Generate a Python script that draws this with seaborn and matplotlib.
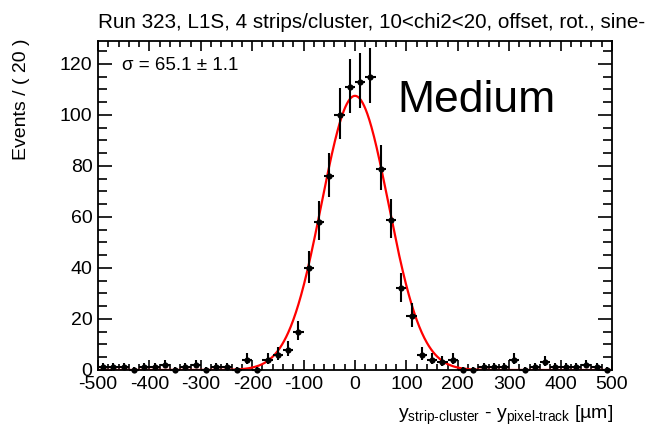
import numpy as np
import pandas as pd
import seaborn as sns
import matplotlib
matplotlib.use("Agg")
import matplotlib.pyplot as plt
from matplotlib.ticker import MultipleLocator

# histogram: 50 bins of width 20 between -500 and 500
bin_width = 20
bin_centers = np.arange(-490, 500, bin_width)
counts = [
    1, 1, 1, 0, 1, 1, 2, 0, 1, 2, 0, 1, 1, 0,            # -490 .. -230
    4, 0, 4, 6, 8, 15, 40, 58, 76, 100, 111,              # -210 .. -10
    113, 115, 79, 59, 32, 21, 6, 4, 3, 4,                 # 10 .. 190
    0, 0, 1, 1, 1, 4, 0, 1, 3, 1, 1, 1, 2, 1, 0,          # 210 .. 490
]

# gaussian fit result
fit_peak = 107.5
fit_mean = 0.0
fit_sigma = 65.1
fit_sigma_err = 1.1

title = "Run 323, L1S, 4 strips/cluster, 10<chi2<20, offset, rot., sine-"
x_ticks = [-500, -400, -300, -200, -100, 0, 100, 200, 300, 400, 500]
y_ticks = [0, 20, 40, 60, 80, 100, 120]

df = pd.DataFrame({"x": bin_centers, "n": counts})
# approximate poisson intervals
root = np.sqrt(df["n"] + 0.25)
df["err_lo"] = np.where(df["n"] > 0, root - 0.5, 0)
df["err_hi"] = root + 0.5

xs = np.linspace(-500, 500, 1001)
fit_df = pd.DataFrame({
    "x": xs,
    "y": fit_peak * np.exp(-0.5 * ((xs - fit_mean) / fit_sigma) ** 2),
})

sns.set_theme(style="ticks")
plt.rcParams["font.family"] = ["Liberation Sans", "DejaVu Sans"]
plt.rcParams["mathtext.fontset"] = "custom"
plt.rcParams["mathtext.rm"] = "Liberation Sans"
plt.rcParams["mathtext.it"] = "Liberation Sans"
plt.rcParams["axes.linewidth"] = 1.3
plt.rcParams["text.color"] = "black"

fig = plt.figure(figsize=(6.46, 4.34), dpi=100)
ax = fig.add_axes([98 / 646, 64 / 434, 514 / 646, 329.5 / 434])

sns.lineplot(data=fit_df, x="x", y="y", ax=ax, color="#ff0000", linewidth=1.6, zorder=2)
ax.errorbar(df["x"], df["n"], xerr=bin_width / 2, yerr=[df["err_lo"], df["err_hi"]],
            fmt="none", ecolor="black", elinewidth=1.5, capsize=0, zorder=3, clip_on=False)
sns.scatterplot(data=df, x="x", y="n", ax=ax, color="black", s=20, linewidth=0,
                zorder=4, clip_on=False)

ax.set_xlim(-500, 500)
ax.set_ylim(0, 129.2)
ax.set_xticks(x_ticks)
ax.set_xticklabels([str(t) for t in x_ticks])
ax.set_yticks(y_ticks)
ax.xaxis.set_minor_locator(MultipleLocator(20))
ax.yaxis.set_minor_locator(MultipleLocator(5))
ax.tick_params(which="both", direction="in", top=True, right=True, color="black",
               labelsize=14, labelcolor="black", width=1.2)
ax.tick_params(axis="x", which="major", length=7.5, pad=4)
ax.tick_params(axis="x", which="minor", length=4.5)
ax.tick_params(axis="y", which="major", length=10, pad=4)
ax.tick_params(axis="y", which="minor", length=6.5)
for s in ax.spines.values():
    s.set_color("black")
ax.set_xlabel("")
ax.set_ylabel("")

fig.text(97.5 / 646, 1 - 22 / 434, title, ha="left", va="center", fontsize=14.9,
         color="black")
fig.text(22 / 646, 1 - 38 / 434, "Events / ( 20 )", rotation=90, ha="center",
         va="top", fontsize=14, color="black")
fig.text(613 / 646, 1 - 419 / 434,
         r"y$_{\mathrm{strip\text{-}cluster}}$ - y$_{\mathrm{pixel\text{-}track}}$ [µm]",
         ha="right", va="baseline", fontsize=14, color="black")
fig.text(122 / 646, 1 - 70 / 434, f"σ = {fit_sigma} ± {fit_sigma_err}",
         ha="left", va="baseline", fontsize=13.5, color="black")
fig.text(397 / 646, 1 - 112 / 434, "Medium", ha="left", va="baseline", fontsize=32,
         color="black")

fig.savefig("out.png", dpi=100)
